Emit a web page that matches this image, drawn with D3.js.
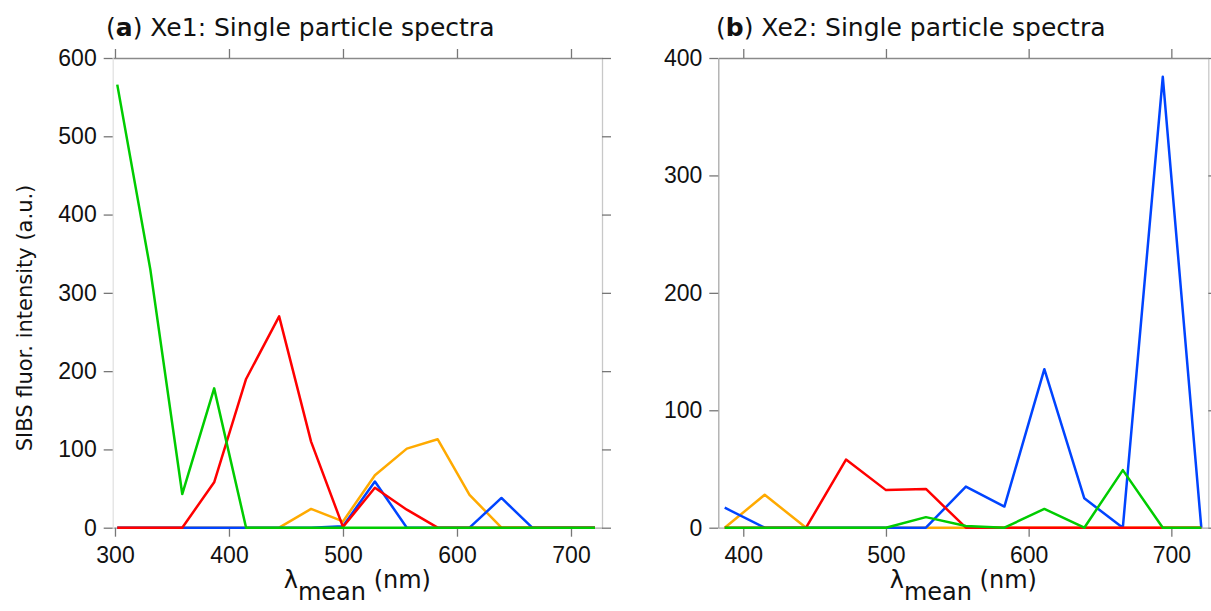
<!DOCTYPE html>
<html>
<head>
<meta charset="utf-8">
<script src="https://cdn.jsdelivr.net/npm/d3@7"></script>
<style>
	body { margin: 0; background: #fff; }
	svg { display: block; }
	.tick text { font-family: "Liberation Sans", Arial, sans-serif; font-size: 23px; fill: #111; }
	.label { font-family: "DejaVu Sans", Verdana, sans-serif; fill: #111; }
</style>
</head>
<body>
<div id="chart"></div>
<script>
// wavelength grid (nm) of the single particle spectra
var waveXe1 = [302, 331, 359, 387, 415, 444, 472, 500, 528, 556, 583, 611, 639, 666, 694, 721];
var waveXe2 = [387, 415, 444, 472, 500, 528, 556, 583, 611, 639, 666, 694, 721];

// (a) Xe1 particles
var xe1Orange = [0, 0, 0, 0, 0, 0, 24, 8, 67, 101, 113, 42, 0, 0, 0, 0];
var xe1Blue   = [0, 0, 0, 0, 0, 0, 0, 2, 59, 0, 0, 0, 38, 0, 0, 0];
var xe1Red    = [0, 0, 0, 58, 190, 270, 110, 1, 51, 23, 0, 0, 0, 0, 0, 0];
var xe1Green  = [566, 330, 43, 178, 0, 0, 0, 0, 0, 0, 0, 0, 0, 0, 0, 0];

// (b) Xe2 particles
var xe2Orange = [0, 28, 0, 0, 0, 0, 0, 0, 0, 0, 0, 0, 0];
var xe2Blue   = [17, 0, 0, 0, 0, 0, 35, 18, 135, 25, 0, 384, 0];
var xe2Red    = [0, 0, 0, 58, 32, 33, 0, 0, 0, 0, 0, 0, 0];
var xe2Green  = [0, 0, 0, 0, 0, 9, 1.5, 0, 16, 0, 49, 0, 0];

var xTicks = [300, 400, 500, 600, 700];
var yTicksA = [0, 100, 200, 300, 400, 500, 600];
var yTicksB = [0, 100, 200, 300, 400];

var colors = { orange: "#ffaa00", blue: "#0044ff", red: "#ff0000", green: "#00cc00" };

var svg = d3.select("#chart").append("svg")
	.attr("width", 1211)
	.attr("height", 611);

function drawPanel(opts){
	var x = d3.scaleLinear().domain(opts.xDomain).range([opts.left, opts.right]);
	var y = d3.scaleLinear().domain(opts.yDomain).range([opts.bottom, opts.top]);

	// only the ticks that fall inside this panel
	var xt = xTicks.filter(function(d){ return d >= opts.xDomain[0] && d <= opts.xDomain[1]; });

	var g = svg.append("g");

	var axes = [
		{ axis: d3.axisBottom(x).tickValues(xt).tickFormat(d3.format("d")).tickPadding(10), tr: [0, opts.bottom], line: "#a8a8a8" },
		{ axis: d3.axisTop(x).tickValues(xt).tickFormat(""), tr: [0, opts.top], line: "#8a8a8a" },
		{ axis: d3.axisLeft(y).tickValues(opts.yTicks).tickFormat(d3.format("d")).tickPadding(7), tr: [opts.left, 0], line: opts.leftLine },
		{ axis: d3.axisRight(y).tickValues(opts.yTicks).tickFormat(""), tr: [opts.right, 0], line: "#c8c8c8" }
	];

	axes.forEach(function(a){
		var ax = g.append("g")
			.attr("transform", "translate(" + a.tr[0] + "," + a.tr[1] + ")")
			.call(a.axis.tickSize(9).tickSizeOuter(0));
		ax.select(".domain").attr("stroke", a.line).attr("stroke-width", 1.3);
		ax.selectAll(".tick line").attr("stroke", "#777").attr("stroke-width", 1.3);
	});

	var line = d3.line()
		.x(function(d){ return x(d[0]); })
		.y(function(d){ return y(d[1]); });

	// draw order: orange, blue, red, green (green on top)
	opts.series.forEach(function(s){
		var pts = opts.wave.map(function(w, i){ return [w, s.values[i]]; });
		g.append("path")
			.datum(pts)
			.attr("fill", "none")
			.attr("stroke", s.color)
			.attr("stroke-width", 2.5)
			.attr("stroke-linejoin", "round")
			.attr("d", line);
	});

	var title = g.append("text")
		.attr("class", "label")
		.attr("x", opts.titleX)
		.attr("y", 36)
		.style("font-size", "25px");
	title.append("tspan").text("(");
	title.append("tspan").style("font-weight", "bold").text(opts.letter);
	title.append("tspan").text(") " + opts.title);

	var xl = g.append("text")
		.attr("class", "label")
		.attr("x", (opts.left + opts.right) / 2)
		.attr("y", 588)
		.attr("text-anchor", "middle")
		.style("font-size", "24px");
	xl.append("tspan").text("λ");
	xl.append("tspan").attr("dy", 12).text("mean");
	xl.append("tspan").attr("dy", -12).text(" (nm)");
}

drawPanel({
	left: 112.7, right: 602, top: 58, bottom: 527.7,
	xDomain: [298, 727.2], yDomain: [0, 600], yTicks: yTicksA,
	leftLine: "#e2e2e2",
	wave: waveXe1,
	series: [
		{ values: xe1Orange, color: colors.orange },
		{ values: xe1Blue, color: colors.blue },
		{ values: xe1Red, color: colors.red },
		{ values: xe1Green, color: colors.green }
	],
	letter: "a", title: "Xe1: Single particle spectra", titleX: 106
});

drawPanel({
	left: 718.3, right: 1208.3, top: 58, bottom: 527.7,
	xDomain: [382.5, 725.9], yDomain: [0, 400], yTicks: yTicksB,
	leftLine: "#a8a8a8",
	wave: waveXe2,
	series: [
		{ values: xe2Orange, color: colors.orange },
		{ values: xe2Blue, color: colors.blue },
		{ values: xe2Red, color: colors.red },
		{ values: xe2Green, color: colors.green }
	],
	letter: "b", title: "Xe2: Single particle spectra", titleX: 716
});

svg.append("text")
	.attr("class", "label")
	.attr("transform", "translate(32,318) rotate(-90)")
	.attr("text-anchor", "middle")
	.style("font-size", "21px")
	.text("SIBS fluor. intensity (a.u.)");
</script>
</body>
</html>
